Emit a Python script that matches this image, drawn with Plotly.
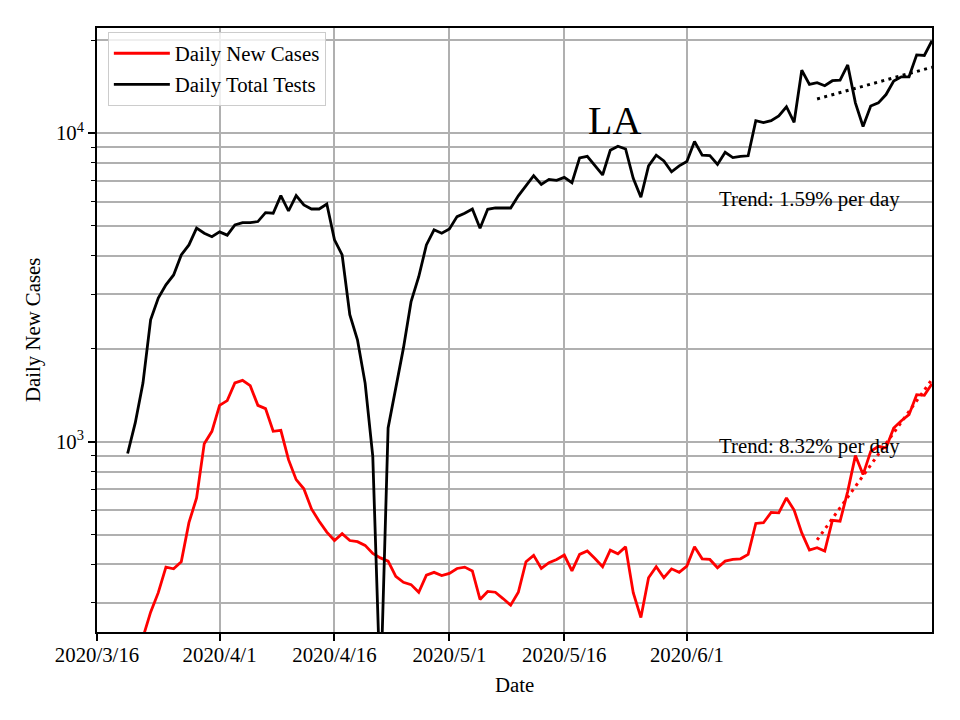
import numpy as np
import pandas as pd
import plotly.graph_objects as go

# ---------------- data ----------------
start_date = "2020-03-20"

daily_new_cases = [
    170, 200, 232, 280, 324, 392, 387, 408, 546, 657,
    985, 1080, 1311, 1358, 1549, 1580, 1518, 1311, 1279, 1080,
    1088, 874, 753, 703, 605, 552, 509, 478, 503, 478,
    474, 461, 434, 420, 410, 366, 350, 344, 325, 369,
    377, 368, 374, 388, 392, 381, 308, 327, 325, 310,
    295, 325, 408, 428, 388, 405, 415, 429, 381, 431,
    442, 418, 393, 445, 433, 456, 324, 269, 362, 393,
    362, 387, 377, 395, 456, 417, 415, 390, 410, 415,
    417, 431, 543, 546, 590, 588, 657, 600, 506, 445,
    453, 442, 556, 552, 690, 901, 782, 930, 966, 954,
    1107, 1169, 1223, 1419, 1412, 1540,
]

daily_total_tests = [
    915, 1152, 1548, 2482, 2918, 3222, 3468, 4026, 4340, 4917,
    4735, 4616, 4783, 4668, 5041, 5128, 5128, 5167, 5524, 5497,
    6272, 5590, 6272, 5847, 5675, 5675, 5890, 4506, 4026, 2577,
    2139, 1548, 896, 150, 1107, 1510, 2009, 2844, 3423, 4340,
    4860, 4735, 4885, 5360, 5497, 5675, 4917, 5663, 5717, 5717,
    5717, 6258, 6738, 7272, 6818, 7077, 7023, 7185, 6902, 8306,
    8410, 7826, 7314, 8796, 9061, 8880, 7130, 6195, 7826, 8480,
    8118, 7486, 7826, 8087, 9389, 8480, 8450, 7910, 8660, 8330,
    8410, 8440, 10970, 10810, 10970, 11370, 12170, 10840, 15980, 14380,
    14560, 14240, 14780, 14850, 16630, 12530, 10500, 12240, 12530, 13330,
    14740, 15220, 15220, 17920, 17840, 19920,
]

dates = pd.date_range(start_date, periods=len(daily_new_cases), freq="D")

# trend fits (last 15 days)
trend_start = "2020-06-18"
trend_days = 16
cases_trend_start, cases_trend_rate = 480, 0.0832
tests_trend_start, tests_trend_rate = 12900, 0.0159

x_tick_dates = ["2020-03-16", "2020-04-01", "2020-04-16", "2020-05-01", "2020-05-16", "2020-06-01"]
x_tick_labels = ["2020/3/16", "2020/4/1", "2020/4/16", "2020/5/1", "2020/5/16", "2020/6/1"]
y_major_vals = [1000, 10000]
y_major_labels = ["10<sup>3</sup>", "10<sup>4</sup>"]
y_minor_vals = [300, 400, 500, 600, 700, 800, 900,
                2000, 3000, 4000, 5000, 6000, 7000, 8000, 9000, 20000]

# ---------------- figure ----------------
FONT = "Liberation Serif, Times New Roman, serif"
FS = 20.8

trend_dates = pd.date_range(trend_start, periods=trend_days, freq="D")
t = np.arange(trend_days)
cases_trend = cases_trend_start * (1 + cases_trend_rate) ** t
tests_trend = tests_trend_start * (1 + tests_trend_rate) ** t

fig = go.Figure()
fig.add_trace(go.Scatter(x=dates, y=daily_new_cases, mode="lines",
                         name="Daily New Cases", legendgroup="a",
                         line=dict(color="#ff0000", width=2.8)))
fig.add_trace(go.Scatter(x=dates, y=daily_total_tests, mode="lines",
                         name="Daily Total Tests", legendgroup="b",
                         line=dict(color="#000000", width=2.8)))
fig.add_trace(go.Scatter(x=trend_dates, y=cases_trend, mode="lines", showlegend=False,
                         line=dict(color="#ff0000", width=3, dash="3px,4.4px")))
fig.add_trace(go.Scatter(x=trend_dates, y=tests_trend, mode="lines", showlegend=False,
                         line=dict(color="#000000", width=3, dash="3px,4.4px")))

fig.update_layout(
    width=952, height=712,
    margin=dict(l=89, r=28, t=20, b=88),
    paper_bgcolor="white", plot_bgcolor="white",
    font=dict(family=FONT, size=FS, color="black"),
    showlegend=True,
    legend=dict(x=0.013, y=0.993, xanchor="left", yanchor="top",
                bgcolor="rgba(255,255,255,0.8)", bordercolor="#cccccc", borderwidth=1,
                font=dict(family=FONT, size=FS, color="black"),
                traceorder="grouped", tracegroupgap=1, itemwidth=56),
    xaxis=dict(
        type="date", range=["2020-03-16", "2020-07-03"],
        tickmode="array", tickvals=x_tick_dates, ticktext=x_tick_labels,
        ticks="outside", ticklen=7, tickwidth=1.6, tickcolor="black",
        ticklabelstandoff=-4,
        showgrid=True, gridcolor="#b0b0b0", gridwidth=1.6,
        showline=True, linecolor="black", linewidth=1.6, mirror=True,
        zeroline=False,
        tickfont=dict(family=FONT, size=FS),
    ),
    yaxis=dict(
        type="log", range=[2.383, 4.3405],
        tickmode="array", tickvals=y_major_vals, ticktext=y_major_labels,
        ticks="outside", ticklen=7, tickwidth=1.6, tickcolor="black",
        showgrid=True, gridcolor="#b0b0b0", gridwidth=1.6,
        minor=dict(tickmode="array", tickvals=y_minor_vals, ticks="outside",
                   ticklen=4, tickwidth=1.2, tickcolor="black",
                   showgrid=True, gridcolor="#b0b0b0", gridwidth=1.6),
        showline=True, linecolor="black", linewidth=1.6, mirror=True,
        zeroline=False,
        tickfont=dict(family=FONT, size=FS),
    ),
    annotations=[
        dict(text="Date", xref="paper", yref="paper", x=0.5, y=0,
             xanchor="center", yanchor="middle", yshift=-52, showarrow=False,
             font=dict(family=FONT, size=FS, color="black")),
        dict(text="Daily New Cases", xref="paper", yref="paper", x=0, y=0.5,
             xanchor="center", yanchor="middle", xshift=-64, textangle=-90,
             showarrow=False, font=dict(family=FONT, size=FS, color="black")),
        dict(text="LA", xref="paper", yref="paper", x=0.620, y=0.847,
             xanchor="center", yanchor="middle", showarrow=False,
             font=dict(family=FONT, size=40, color="black")),
        dict(text="Trend: 1.59% per day", xref="paper", yref="paper", x=0.742, y=0.717,
             xanchor="left", yanchor="middle", showarrow=False,
             font=dict(family=FONT, size=FS, color="black")),
        dict(text="Trend: 8.32% per day", xref="paper", yref="paper", x=0.742, y=0.308,
             xanchor="left", yanchor="middle", showarrow=False,
             font=dict(family=FONT, size=FS, color="black")),
    ],
)

fig.write_html("out.html")
